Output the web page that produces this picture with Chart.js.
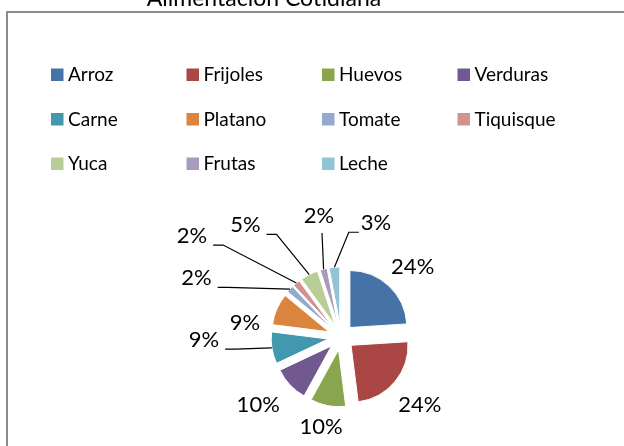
<!DOCTYPE html>
<html>
<head>
<meta charset="utf-8">
<script src="https://cdn.jsdelivr.net/npm/chart.js@4"></script>
<style>
  body { margin: 0; background: #fff; }
  canvas { display: block; }
</style>
</head>
<body>
<canvas id="pie" width="624" height="446"></canvas>
<script>
// Alimentación Cotidiana - exploded pie
const chartTitle = 'Alimentación Cotidiana';
const foods = ['Arroz', 'Frijoles', 'Huevos', 'Verduras', 'Carne', 'Platano',
               'Tomate', 'Tiquisque', 'Yuca', 'Frutas', 'Leche'];
const shares = [24, 24, 10, 10, 9, 9, 2, 2, 5, 2, 3];
const sliceColors = ['#4572A7', '#AA4643', '#89A54E', '#71588F', '#4198AF', '#DB843D',
                     '#93A9CF', '#D19392', '#B9CD96', '#A99BBD', '#92C3D6'];

// label placement (degrees clockwise from 12 o'clock, px from pie centre)
const labelAngle = [45.8, 130.7, 192.5, 230.7, 268.7, 278.3, 292.1, 304.1, 319.4, 349.7, 17.1];
const labelDist = [100, 104, 92, 107, 137, 97, 156, 180, 147, 123, 119];
const hasLeader = [false, false, false, false, true, false, true, true, true, true, true];

const EXPLODE = 13;
const FONT = 'Lato, "Open Sans", sans-serif';

const explodePlugin = {
    id: 'explode',
    afterDatasetsUpdate(chart) {
        chart.getDatasetMeta(0).data.forEach(arc => {
            const mid = (arc.startAngle + arc.endAngle) / 2;
            arc.x += Math.cos(mid) * EXPLODE;
            arc.y += Math.sin(mid) * EXPLODE;
        });
    }
};

const decorPlugin = {
    id: 'decor',
    beforeDraw(chart) {
        const ctx = chart.ctx;
        ctx.save();
        // frame
        ctx.strokeStyle = '#8c8c8c';
        ctx.lineWidth = 2;
        ctx.beginPath();
        ctx.moveTo(7, chart.height);
        ctx.lineTo(7, 12);
        ctx.lineTo(chart.width, 12);
        ctx.stroke();
        // title (cut off at the top, like the original)
        ctx.fillStyle = '#000';
        ctx.font = '23px ' + FONT;
        ctx.textAlign = 'center';
        ctx.textBaseline = 'alphabetic';
        ctx.fillText(chartTitle, 264, 6);
        // legend, 4 columns
        ctx.font = '19px ' + FONT;
        ctx.textAlign = 'left';
        foods.forEach((name, i) => {
            const col = i % 4, row = Math.floor(i / 4);
            const x = 51 + col * 135.5;
            const base = 81 + row * 44.5;
            ctx.fillStyle = sliceColors[i];
            ctx.fillRect(x, base - 12.5, 12.5, 12.5);
            ctx.fillStyle = '#000';
            ctx.fillText(name, x + 17, base);
        });
        ctx.restore();
    },
    afterDatasetsDraw(chart) {
        const ctx = chart.ctx;
        const area = chart.chartArea;
        const cx = (area.left + area.right) / 2;
        const cy = (area.top + area.bottom) / 2;
        ctx.save();
        ctx.font = '22px ' + FONT;
        ctx.textAlign = 'center';
        ctx.textBaseline = 'middle';
        ctx.strokeStyle = '#000';
        ctx.lineWidth = 1.2;
        chart.getDatasetMeta(0).data.forEach((arc, i) => {
            const total = shares.reduce((a, b) => a + b, 0);
            const text = Math.round(shares[i] / total * 100) + '%';
            const a = labelAngle[i] * Math.PI / 180;
            const tx = cx + Math.sin(a) * labelDist[i];
            const ty = cy - Math.cos(a) * labelDist[i];
            ctx.fillStyle = '#000';
            ctx.fillText(text, tx, ty);
            if (!hasLeader[i]) return;
            const mid = (arc.startAngle + arc.endAngle) / 2;
            const px = arc.x + Math.cos(mid) * arc.outerRadius;
            const py = arc.y + Math.sin(mid) * arc.outerRadius;
            const half = ctx.measureText(text).width / 2;
            const by = ty + 9;
            ctx.beginPath();
            if (Math.abs(px - tx) < 12) {
                ctx.moveTo(tx + 3, by + 8);
                ctx.lineTo(px, py);
            } else if (px > tx) {
                ctx.moveTo(tx + half + 6, by);
                ctx.lineTo(tx + half + 16, by);
                ctx.lineTo(px, py);
            } else {
                ctx.moveTo(tx - half - 2, by);
                ctx.lineTo(tx - half - 12, by);
                ctx.lineTo(px, py);
            }
            ctx.stroke();
        });
        ctx.restore();
    }
};

new Chart(document.getElementById('pie'), {
    type: 'pie',
    data: {
        labels: foods,
        datasets: [{
            data: shares,
            backgroundColor: sliceColors,
            borderColor: '#ffffff',
            borderWidth: 1
        }]
    },
    options: {
        responsive: false,
        animation: false,
        radius: 57,
        layout: { padding: { left: 200, right: 142, top: 248, bottom: 20 } },
        plugins: {
            legend: { display: false },
            title: { display: false },
            tooltip: { enabled: false }
        }
    },
    plugins: [explodePlugin, decorPlugin]
});
</script>
</body>
</html>
